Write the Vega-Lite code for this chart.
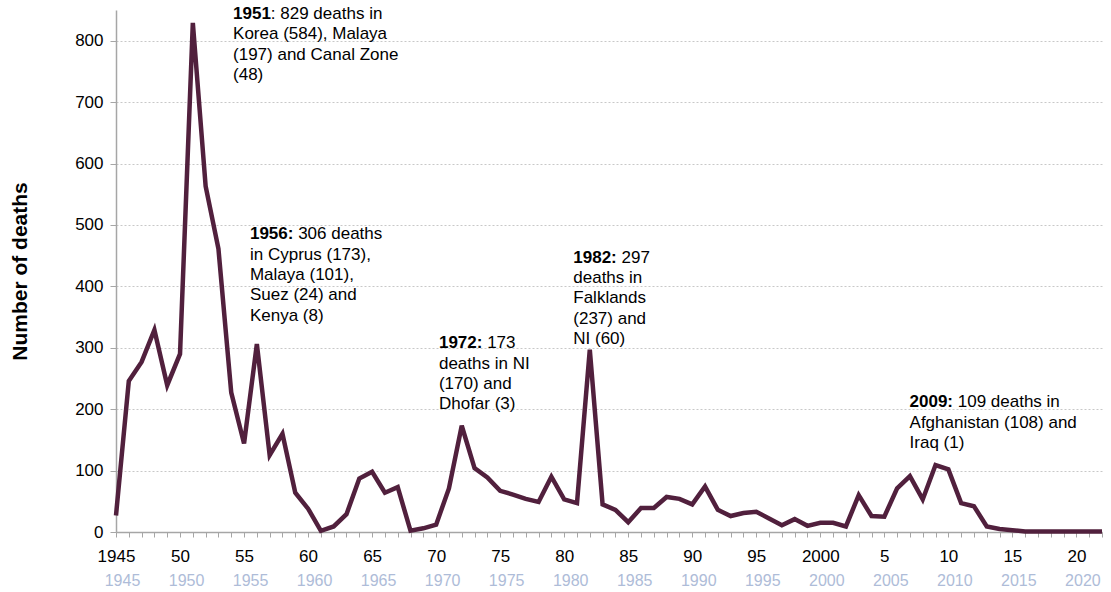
{
  "$schema": "https://vega.github.io/schema/vega-lite/v6.json",
  "width": 986,
  "height": 522,
  "autosize": {"type": "none"},
  "padding": {"left": 116, "top": 10, "right": 9, "bottom": 60},
  "background": "white",
  "config": {"view": {"stroke": null}, "font": "Liberation Sans"},
  "datasets": {
    "deaths": [
      {"year": 1945, "deaths": 27}, {"year": 1946, "deaths": 246}, {"year": 1947, "deaths": 277},
      {"year": 1948, "deaths": 329}, {"year": 1949, "deaths": 239}, {"year": 1950, "deaths": 290},
      {"year": 1951, "deaths": 829}, {"year": 1952, "deaths": 563}, {"year": 1953, "deaths": 461},
      {"year": 1954, "deaths": 227}, {"year": 1955, "deaths": 144}, {"year": 1956, "deaths": 306},
      {"year": 1957, "deaths": 125}, {"year": 1958, "deaths": 160}, {"year": 1959, "deaths": 64},
      {"year": 1960, "deaths": 38}, {"year": 1961, "deaths": 2}, {"year": 1962, "deaths": 9},
      {"year": 1963, "deaths": 29}, {"year": 1964, "deaths": 87}, {"year": 1965, "deaths": 98},
      {"year": 1966, "deaths": 64}, {"year": 1967, "deaths": 73}, {"year": 1968, "deaths": 2},
      {"year": 1969, "deaths": 6}, {"year": 1970, "deaths": 12}, {"year": 1971, "deaths": 71},
      {"year": 1972, "deaths": 173}, {"year": 1973, "deaths": 104}, {"year": 1974, "deaths": 89},
      {"year": 1975, "deaths": 67}, {"year": 1976, "deaths": 61}, {"year": 1977, "deaths": 54},
      {"year": 1978, "deaths": 49}, {"year": 1979, "deaths": 90}, {"year": 1980, "deaths": 53},
      {"year": 1981, "deaths": 47}, {"year": 1982, "deaths": 297}, {"year": 1983, "deaths": 45},
      {"year": 1984, "deaths": 36}, {"year": 1985, "deaths": 16}, {"year": 1986, "deaths": 39},
      {"year": 1987, "deaths": 39}, {"year": 1988, "deaths": 57}, {"year": 1989, "deaths": 54},
      {"year": 1990, "deaths": 45}, {"year": 1991, "deaths": 74}, {"year": 1992, "deaths": 36},
      {"year": 1993, "deaths": 26}, {"year": 1994, "deaths": 31}, {"year": 1995, "deaths": 33},
      {"year": 1996, "deaths": 22}, {"year": 1997, "deaths": 11}, {"year": 1998, "deaths": 21},
      {"year": 1999, "deaths": 10}, {"year": 2000, "deaths": 15}, {"year": 2001, "deaths": 15},
      {"year": 2002, "deaths": 9}, {"year": 2003, "deaths": 60}, {"year": 2004, "deaths": 26},
      {"year": 2005, "deaths": 25}, {"year": 2006, "deaths": 71}, {"year": 2007, "deaths": 91},
      {"year": 2008, "deaths": 53}, {"year": 2009, "deaths": 109}, {"year": 2010, "deaths": 102},
      {"year": 2011, "deaths": 47}, {"year": 2012, "deaths": 42}, {"year": 2013, "deaths": 9},
      {"year": 2014, "deaths": 5}, {"year": 2015, "deaths": 3}, {"year": 2016, "deaths": 1},
      {"year": 2017, "deaths": 1}, {"year": 2018, "deaths": 1}, {"year": 2019, "deaths": 1},
      {"year": 2020, "deaths": 1}, {"year": 2021, "deaths": 1}, {"year": 2022, "deaths": 1}
    ],
    "notes": [
      {"year": 1954.14, "deaths": 835.3, "bold": "1951", "first": ": 829 deaths in", "rest": "Korea (584), Malaya\n(197) and Canal Zone\n(48)"},
      {"year": 1955.46, "deaths": 476.6, "bold": "1956:", "first": "306 deaths", "rest": "in Cyprus (173),\nMalaya (101),\nSuez (24) and\nKenya (8)"},
      {"year": 1970.22, "deaths": 299.1, "bold": "1972:", "first": "173", "rest": "deaths in NI\n(170) and\nDhofar (3)"},
      {"year": 1980.71, "deaths": 438.5, "bold": "1982:", "first": "297", "rest": "deaths in\nFalklands\n(237) and\nNI (60)"},
      {"year": 2006.97, "deaths": 203, "bold": "2009:", "first": "109 deaths in", "rest": "Afghanistan (108) and\nIraq (1)"}
    ]
  },
  "layer": [
    {
      "encoding": {
        "x": {
          "field": "year", "type": "quantitative",
          "scale": {"domain": [1945, 2022], "nice": false, "zero": false},
          "axis": {
            "title": null, "grid": false,
            "values": [1945,1946,1947,1948,1949,1950,1951,1952,1953,1954,1955,1956,1957,1958,1959,1960,1961,1962,1963,1964,1965,1966,1967,1968,1969,1970,1971,1972,1973,1974,1975,1976,1977,1978,1979,1980,1981,1982,1983,1984,1985,1986,1987,1988,1989,1990,1991,1992,1993,1994,1995,1996,1997,1998,1999,2000,2001,2002,2003,2004,2005,2006,2007,2008,2009,2010,2011,2012,2013,2014,2015,2016,2017,2018,2019,2020,2021,2022],
            "labelExpr": "datum.value % 5 != 0 ? '' : ((datum.value == 1945 || datum.value == 2000) ? '' + datum.value : (datum.value < 2000 ? '' + (datum.value - 1900) : '' + (datum.value - 2000)))",
            "labelFlush": false, "labelOverlap": false, "labelBound": false,
            "labelFontSize": 17, "labelColor": "#000000", "labelPadding": 11,
            "domainColor": "#a6a6a6", "domainWidth": 1.5,
            "tickColor": "#a6a6a6", "tickSize": 5, "tickWidth": 1
          }
        },
        "y": {
          "field": "deaths", "type": "quantitative",
          "scale": {"domain": [0, 850], "nice": false},
          "axis": {
            "values": [0, 100, 200, 300, 400, 500, 600, 700, 800],
            "grid": true, "gridDash": [2, 2], "gridColor": "#c8c8c8", "gridWidth": 1,
            "domainColor": "#a6a6a6", "domainWidth": 1.5,
            "tickColor": "#a6a6a6", "tickSize": 6,
            "labelFontSize": 17, "labelColor": "#000000", "labelPadding": 7,
            "title": "Number of deaths", "titleFontSize": 21, "titleFontWeight": "bold",
            "titleColor": "#000000", "titleX": -96, "titleY": 261, "titleBaseline": "middle"
          }
        }
      },
      "layer": [
        {
          "data": {"name": "deaths"},
          "mark": {"type": "line", "color": "#51203d", "strokeWidth": 4.5}
        },
        {
          "data": {"name": "notes"},
          "mark": {"type": "text", "align": "left", "baseline": "alphabetic", "fontSize": 17, "fontWeight": "bold", "color": "#000000"},
          "encoding": {"text": {"field": "bold"}}
        },
        {
          "data": {"name": "notes"},
          "transform": [{"filter": "datum.bold == '1951'"}],
          "mark": {"type": "text", "align": "left", "baseline": "alphabetic", "fontSize": 17, "dx": 37.8, "color": "#000000"},
          "encoding": {"text": {"field": "first"}}
        },
        {
          "data": {"name": "notes"},
          "transform": [{"filter": "datum.bold != '1951'"}],
          "mark": {"type": "text", "align": "left", "baseline": "alphabetic", "fontSize": 17, "dx": 48.2, "color": "#000000"},
          "encoding": {"text": {"field": "first"}}
        },
        {
          "data": {"name": "notes"},
          "mark": {"type": "text", "align": "left", "baseline": "alphabetic", "fontSize": 17, "dy": 20.3, "lineHeight": 20.3, "lineBreak": "\n", "color": "#000000"},
          "encoding": {"text": {"field": "rest"}}
        }
      ]
    },
    {
      "data": {"name": "deaths"},
      "mark": {"type": "line", "opacity": 0},
      "encoding": {
        "x": {
          "field": "year", "type": "quantitative",
          "scale": {"domain": [1945, 2022], "nice": false, "zero": false},
          "axis": {
            "orient": "bottom", "title": null, "grid": false, "domain": false, "ticks": false,
            "values": [1945, 1950, 1955, 1960, 1965, 1970, 1975, 1980, 1985, 1990, 1995, 2000, 2005, 2010, 2015, 2020],
            "labelExpr": "'' + datum.value",
            "labelFlush": false, "labelOverlap": false, "labelBound": false,
            "labelFontSize": 16, "labelColor": "#aebcd8", "labelPadding": 40, "labelOffset": 6
          }
        },
        "y": {
          "field": "deaths", "type": "quantitative",
          "scale": {"domain": [0, 850], "nice": false},
          "axis": null
        }
      }
    }
  ],
  "resolve": {"scale": {"x": "independent", "y": "independent"}}
}
